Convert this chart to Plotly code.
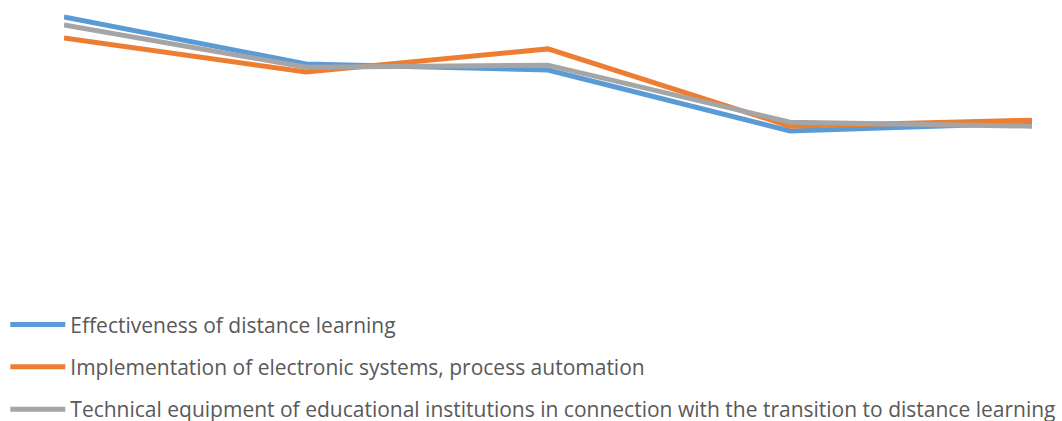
import plotly.graph_objects as go

categories = ["1", "2", "3", "4", "5"]
effectiveness = [95.8, 79.3, 77.2, 55.8, 58.6]
implementation = [88.4, 76.5, 84.6, 57.5, 59.6]
technical = [93.0, 78.2, 78.9, 58.9, 57.5]

series_names = [
    "Effectiveness of distance learning",
    "Implementation of electronic systems, process automation",
    "Technical equipment of educational institutions in connection with the transition to distance learning",
]
series_values = [effectiveness, implementation, technical]
colors = ["#5B9BD5", "#ED7D31", "#A5A5A5"]

fig = go.Figure()
for i, (name, vals, col) in enumerate(zip(series_names, series_values, colors)):
    fig.add_trace(go.Scatter(x=list(range(len(categories))), y=vals, name=name, mode="lines",
                             line=dict(color=col, width=5), legendgroup=str(i)))

fig.update_layout(
    width=1062, height=421,
    margin=dict(l=64, r=30, t=5, b=131, autoexpand=False),
    plot_bgcolor="white", paper_bgcolor="white",
    font=dict(family="Open Sans", size=21, color="#595959"),
    showlegend=True,
    legend=dict(xref="container", yref="container", x=0.005, y=0.277, xanchor="left", yanchor="top",
                tracegroupgap=12, itemwidth=55, bgcolor="rgba(0,0,0,0)"),
)
fig.update_xaxes(range=[0, 4], visible=False)
fig.update_yaxes(range=[0, 100], visible=False)

# drop the default body margin so the 1062x421 figure fills the window
fig.write_html("out.html", config={"displayModeBar": False},
               post_script="document.body.style.margin='0';")
